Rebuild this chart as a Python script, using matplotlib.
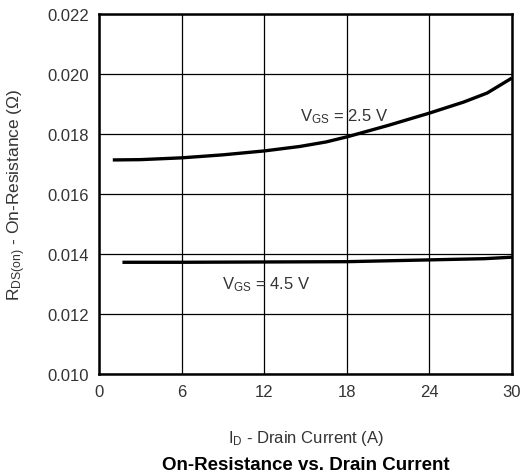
import matplotlib
matplotlib.use("Agg")
import matplotlib.pyplot as plt

plt.rcParams['font.family'] = ['Liberation Sans', 'DejaVu Sans']
plt.rcParams['mathtext.fontset'] = 'custom'
plt.rcParams['mathtext.rm'] = 'Liberation Sans'
plt.rcParams['mathtext.it'] = 'Liberation Sans'

# 曲线数据
id_25 = [1.0, 3.0, 6.0, 9.0, 12.0, 14.6, 16.5, 18.1, 21.0, 24.0, 26.5, 28.2, 30.0]
rds_25 = [0.01713, 0.01714, 0.01720, 0.01730, 0.01743, 0.01758, 0.01773, 0.01791, 0.01828, 0.01869, 0.01906, 0.01936, 0.01986]

id_45 = [1.7, 6.0, 12.0, 18.0, 24.0, 28.0, 30.0]
rds_45 = [0.01372, 0.01372, 0.01373, 0.01374, 0.01380, 0.01384, 0.01389]

x_ticks = [0, 6, 12, 18, 24, 30]
y_ticks = [0.010, 0.012, 0.014, 0.016, 0.018, 0.020, 0.022]
y_tick_labels = ['0.010', '0.012', '0.014', '0.016', '0.018', '0.020', '0.022']

txt = '#333333'

fig = plt.figure(figsize=(5.24, 4.77), dpi=100)
ax = fig.add_axes([0.189, 0.214, 0.788, 0.755])

ax.plot(id_25, rds_25, color='black', linewidth=2.4, solid_capstyle='butt')
ax.plot(id_45, rds_45, color='black', linewidth=2.4, solid_capstyle='butt')

ax.set_xlim(0, 30)
ax.set_ylim(0.010, 0.022)
ax.set_xticks(x_ticks)
ax.set_yticks(y_ticks)
ax.set_yticklabels(y_tick_labels)
ax.tick_params(length=0, labelsize=12, colors=txt, pad=7)
ax.grid(True, color='black', linewidth=0.9)
for s in ax.spines.values():
    s.set_linewidth(1.8)

ax.text(14.6, 0.0186, r'V$_{\mathrm{GS}}$ = 2.5 V', fontsize=12, color=txt, va='center')
ax.text(8.9, 0.0130, r'V$_{\mathrm{GS}}$ = 4.5 V', fontsize=12, color=txt, va='center')

ax.set_xlabel(r'I$_{\mathrm{D}}$ - Drain Current (A)', fontsize=12, color=txt, labelpad=21)
ax.set_ylabel(r'R$_{\mathrm{DS(on)}}$ - On-Resistance ($\Omega$)', fontsize=12.5, color=txt, labelpad=14)

fig.text(0.583, 0.006, 'On-Resistance vs. Drain Current', fontsize=13.5, fontweight='bold',
         ha='center', va='bottom')

fig.savefig('out.png', dpi=100)
